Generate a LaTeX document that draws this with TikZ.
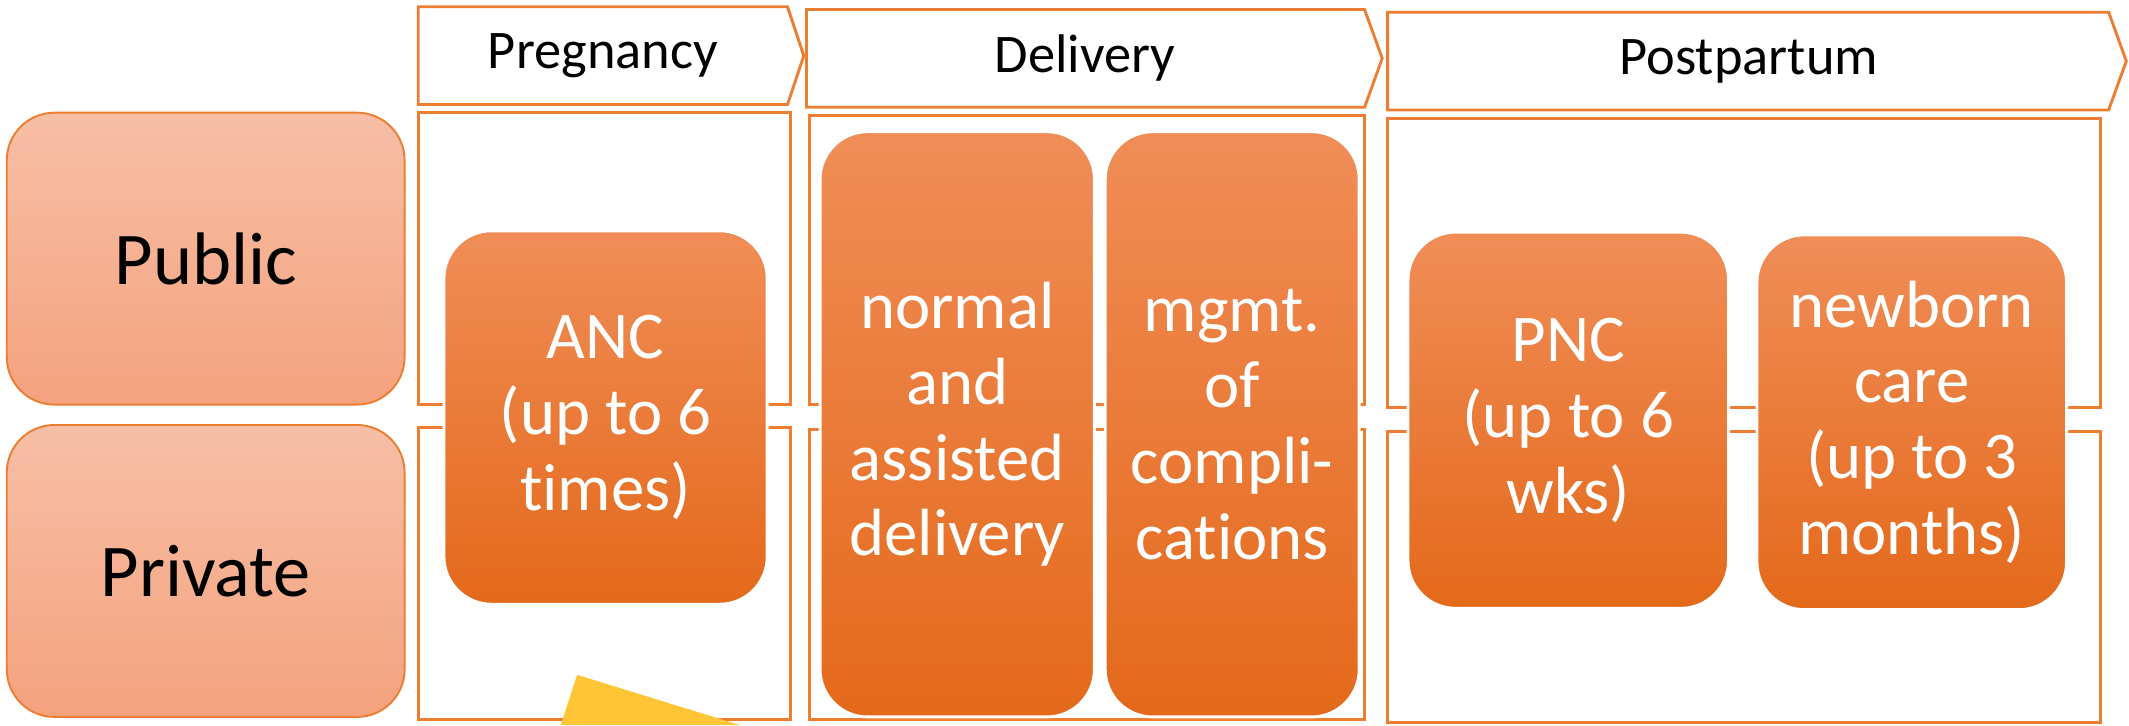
\documentclass[tikz,border=0pt]{standalone}
\usepackage{fontspec}
\setmainfont[Ligatures=CommonOff]{Carlito}
\usepackage{tikz}

\definecolor{accent}{HTML}{ED7D31}
\definecolor{sectortop}{HTML}{F6BFA5}
\definecolor{sectorbot}{HTML}{F5A27E}
\definecolor{servtop}{HTML}{F08D57}
\definecolor{servmid}{HTML}{F47D2F}
\definecolor{servbot}{HTML}{E4691A}
\definecolor{sun}{HTML}{FFC535}

\begin{document}
\begin{tikzpicture}[x=1mm, y=-1mm,
  phase/.style={draw=accent, fill=white, line width=0.6pt},
  phasetext/.style={font=\fontsize{11.4}{13}\selectfont},
  frame/.style={draw=accent, line width=0.6pt},
  sector/.style={draw=accent, line width=0.4pt, rounded corners=3.5mm,
    top color=sectortop, bottom color=sectorbot, minimum width=29.3mm,
    minimum height=21.5mm, font=\fontsize{15.6}{18}\selectfont},
  service/.style={draw=white, line width=0.6pt, rounded corners=3.5mm,
    top color=servtop, middle color=servmid, bottom color=servbot,
    text=white, align=center, inner sep=0pt,
    font=\fontsize{14}{15.9}\selectfont}]
  \useasboundingbox[fill=white] (0,0) rectangle (156.8,53.4);

  % phases
  \draw[phase] (30.8,0.5) -- (58.0,0.5) -- (59.2,4.1) -- (58.0,7.7) -- (30.8,7.7) -- cycle;
  \node[phasetext] (preg) at (44.4,4.1) {Pregnancy};
  \draw[phase] (59.4,0.7) -- (100.5,0.7) -- (101.8,4.3) -- (100.5,7.9) -- (59.4,7.9) -- cycle;
  \node[phasetext] (deliv) at (79.9,4.3) {Delivery};
  \draw[phase] (102.2,0.9) -- (155.3,0.9) -- (156.6,4.5) -- (155.3,8.1) -- (102.2,8.1) -- cycle;
  \node[phasetext] (post) at (128.8,4.5) {Postpartum};

  % frames
  \draw[frame] (30.8,8.3) rectangle (58.2,29.8);
  \draw[frame] (30.8,31.5) rectangle (58.2,53.0);
  \draw[frame] (59.6,8.5) rectangle (100.5,29.8);
  \draw[frame] (59.6,31.6) rectangle (100.5,53.0);
  \draw[frame] (102.2,8.7) rectangle (154.7,30.0);
  \draw[frame] (102.2,31.8) rectangle (154.7,53.2);

  % sectors
  \node[sector] (public) at (15.15,19.05) {Public};
  \node[sector] (private) at (15.15,42.05) {Private};

  % services
  \node[service, minimum width=23.8mm, minimum height=27.5mm] (anc) at (44.6,30.75)
    {ANC\\(up to 6\\times)};
  \node[service, minimum width=20.2mm, minimum height=43.1mm] (normal) at (70.5,31.25)
    {normal\\and\\assisted\\delivery};
  \node[service, minimum width=18.7mm, minimum height=43.1mm] (mgmt) at (90.75,31.25)
    {mgmt.\\of\\compli-\\cations};
  \node[service, minimum width=23.6mm, minimum height=27.7mm] (pnc) at (115.5,30.95)
    {PNC\\(up to 6\\wks)};
  \node[service, minimum width=22.8mm, minimum height=27.6mm] (newborn) at (140.8,31.1)
    {newborn\\care\\(up to 3\\months)};

  \fill[sun] (42.5,49.7) -- (54.5,53.4) -- (41.3,53.4) -- cycle;
\end{tikzpicture}
\end{document}
